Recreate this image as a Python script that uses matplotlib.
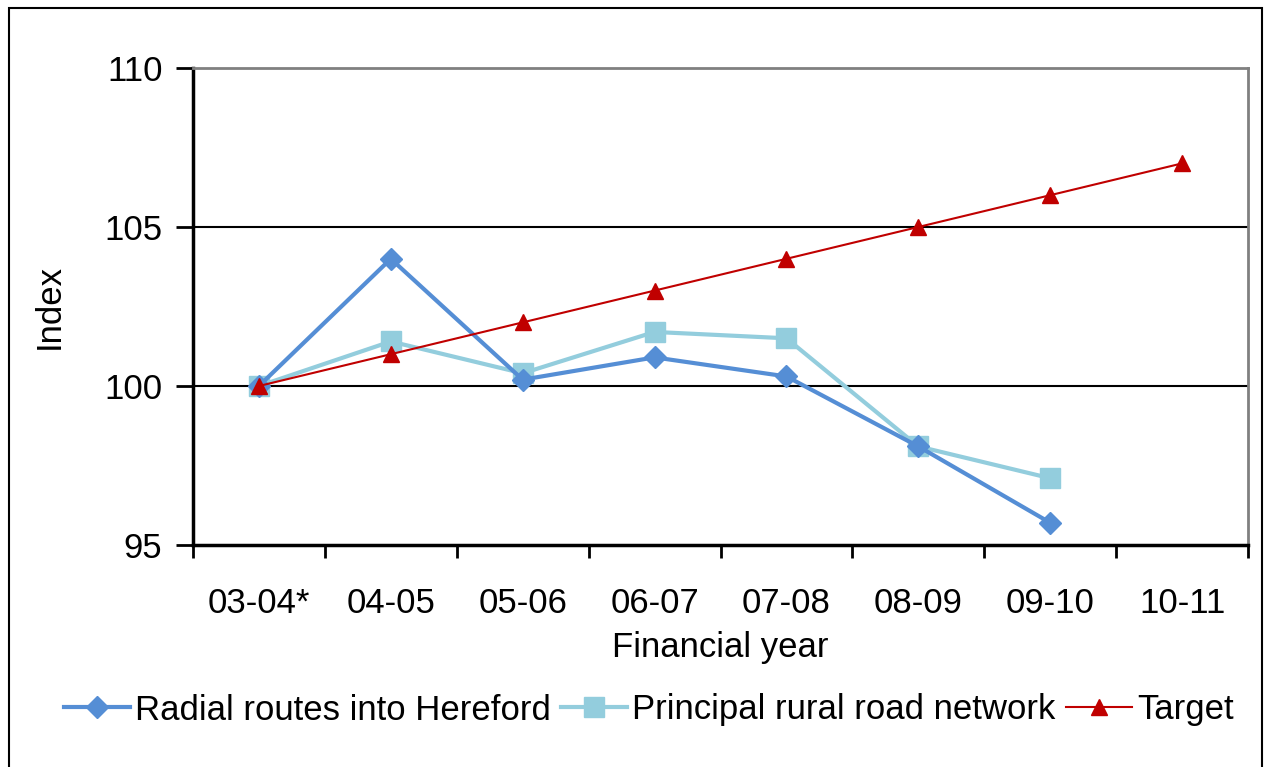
import numpy as np
import matplotlib.pyplot as plt
from matplotlib.patches import Rectangle

plt.rcParams["font.family"] = ["Liberation Sans", "DejaVu Sans"]

years = ["03-04*", "04-05", "05-06", "06-07", "07-08", "08-09", "09-10", "10-11"]
radial = [100.0, 104.0, 100.2, 100.9, 100.3, 98.1, 95.7]
principal = [100.0, 101.4, 100.4, 101.7, 101.5, 98.1, 97.1]
target = [100, 101, 102, 103, 104, 105, 106, 107]

fig = plt.figure(figsize=(12.67, 7.67), dpi=100)
ax = fig.add_axes([193 / 1267, 1 - 545 / 767, (1248 - 193) / 1267, (545 - 68) / 767])

# outer chart frame
fig.patches.append(Rectangle((9 / 1267, -0.05), (1262 - 9) / 1267, 1 - 8 / 767 + 0.05,
                             transform=fig.transFigure, fill=False,
                             edgecolor="black", lw=1.5))

x = np.arange(len(years))
ax.plot(x[:len(radial)], radial, color="#558ED5", lw=3, marker="D", ms=11,
        label="Radial routes into Hereford", zorder=4)
ax.plot(x[:len(principal)], principal, color="#93CDDD", lw=3, marker="s", ms=14,
        label="Principal rural road network", zorder=3)
ax.plot(x, target, color="#C00000", lw=1.5, marker="^", ms=12,
        label="Target", zorder=5)

ax.set_xlim(-0.5, len(years) - 0.5)
ax.set_ylim(95, 110)
ax.set_yticks([95, 100, 105, 110])
ax.set_xticks(x)
ax.set_xticklabels(years)
ax.set_xticks(np.arange(-0.5, len(years)), minor=True)
ax.tick_params(axis="x", which="major", length=0, pad=30, labelsize=25)
ax.tick_params(axis="x", which="minor", length=9, width=2)
ax.tick_params(axis="y", length=12, width=2, pad=10, labelsize=25)

for y in [100, 105]:
    ax.axhline(y, color="black", lw=1.5, zorder=1)

ax.spines["left"].set_linewidth(2.5)
ax.spines["bottom"].set_linewidth(2.5)
ax.spines["top"].set_color("#808080")
ax.spines["right"].set_color("#808080")
ax.spines["top"].set_linewidth(2)
ax.spines["right"].set_linewidth(2)

ax.set_xlabel("Financial year", fontsize=25, labelpad=8)
ax.set_ylabel("Index", fontsize=25, labelpad=28)

ax.legend(loc="center", bbox_to_anchor=(0.512, (767 - 710) / 767), bbox_transform=fig.transFigure,
          ncol=3, frameon=False, fontsize=25, handlelength=1.9, handletextpad=0.15,
          columnspacing=0.3, markerscale=1.0)

fig.savefig("out.png", dpi=100, facecolor="white")
